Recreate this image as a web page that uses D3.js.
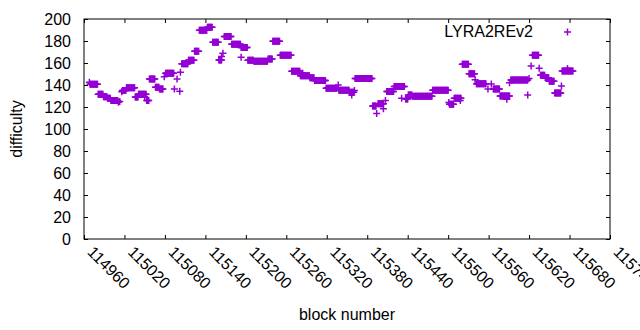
<!DOCTYPE html>
<html>
<head>
<meta charset="utf-8">
<script src="https://cdn.jsdelivr.net/npm/d3@7"></script>
<style>
  body { margin: 0; background: #fff; }
  svg { font-family: "Liberation Sans", Arial, sans-serif; font-size: 16px; }
</style>
</head>
<body>
<svg id="mainSVG" width="640" height="330"></svg>
<script>
// runs of consecutive blocks that share one difficulty value
var runStart = [114969, 114981, 114989, 114995, 115000, 115017, 115023, 115036, 115041, 115053,
                115057, 115066, 115072, 115081, 115105, 115115, 115124, 115131, 115143, 115151,
                115160, 115168, 115179, 115193, 115203, 115212, 115233, 115240, 115251, 115268,
                115281, 115295, 115302, 115319, 115338, 115354, 115362, 115388, 115396, 115409,
                115420, 115437, 115441, 115447, 115477, 115502, 115509, 115521, 115531, 115542,
                115567, 115577, 115593, 115625, 115637, 115644, 115650, 115658, 115669];
var runEnd   = [114980, 114988, 114994, 114999, 115010, 115022, 115035, 115040, 115052, 115056,
                115065, 115071, 115077, 115093, 115114, 115123, 115130, 115142, 115150, 115159,
                115164, 115178, 115192, 115202, 115211, 115232, 115239, 115250, 115267, 115280,
                115294, 115301, 115318, 115335, 115353, 115360, 115387, 115393, 115404, 115419,
                115435, 115440, 115446, 115476, 115500, 115508, 115519, 115530, 115539, 115556,
                115576, 115591, 115618, 115634, 115643, 115649, 115657, 115667, 115685];
var runDiff  = [140.6, 131.5, 129.4, 128, 126, 135, 137.5, 129, 131.5, 126,
                145.5, 138, 136.4, 150.6, 159.4, 162.4, 170.6, 189.7, 192.4, 178.8,
                162.7, 184.2, 177, 174.2, 162.4, 161.5, 163.6, 179.7, 167, 152.4,
                148.5, 146.7, 144.2, 137, 135.2, 133.3, 146, 121, 123, 134,
                138.6, 127.3, 131, 129.7, 135.2, 122.4, 127.9, 158.8, 150.3, 141.2,
                136.4, 129.9, 144.5, 167, 148.8, 146.7, 143.3, 132.7, 152.7];

// isolated blocks
var ptBlock = [114968, 115011, 115013, 115016, 115050, 115079, 115094, 115098, 115102, 115103,
               115164, 115166, 115193, 115284, 115337, 115357, 115361, 115394, 115404, 115407,
               115431, 115501, 115518, 115540, 115559, 115564, 115587, 115591, 115618, 115620,
               115623, 115635, 115668, 115677];
var ptDiff  = [142.4, 124.3, 125, 133.9, 129.5, 147.6, 136.4, 145.5, 134.3, 151.5,
               166, 168.8, 165.2, 151, 140, 131, 135, 114, 118.5, 126,
               128, 124.2, 126, 144.8, 136.4, 141, 127, 142, 131, 146,
               157.3, 155.2, 139, 155];

var xTicks = d3.range(114960, 115741, 60);
var yTicks = d3.range(0, 201, 20);
var seriesName = "LYRA2REv2";
var color = "#9400d3";

// plot box
var boxL = 84, boxR = 610, boxT = 19, boxB = 239;

var svg = d3.select("#mainSVG");

var x = d3.scaleLinear().domain([114960, 115740]).range([boxL, boxR]);
var y = d3.scaleLinear().domain([0, 200]).range([boxB, boxT]);

// one point per block
var points = [];
for (var i = 0; i < runStart.length; i++) {
    for (var b = runStart[i]; b <= runEnd[i]; b++) {
        points.push({ block: b, diff: runDiff[i] });
    }
}
for (var j = 0; j < ptBlock.length; j++) {
    points.push({ block: ptBlock[j], diff: ptDiff[j] });
}

// axes, ticks pointing inward like gnuplot
svg.append("g")
    .attr("transform", "translate(0," + boxB + ")")
    .call(d3.axisBottom(x).tickValues(xTicks).tickSizeInner(-4).tickSizeOuter(0).tickFormat(d3.format("d")))
    .call(function(g) {
        g.selectAll("text")
            .attr("x", null).attr("y", null).attr("dy", null)
            .attr("transform", "translate(2,14) rotate(45)")
            .style("text-anchor", "start");
    });

svg.append("g")
    .attr("transform", "translate(" + boxL + ",0)")
    .call(d3.axisLeft(y).tickValues(yTicks).tickSizeInner(-4).tickSizeOuter(0).tickPadding(13));

svg.append("g")
    .attr("transform", "translate(0," + boxT + ")")
    .call(d3.axisTop(x).tickValues(xTicks).tickSizeInner(-4).tickSizeOuter(0).tickFormat(""));

svg.append("g")
    .attr("transform", "translate(" + boxR + ",0)")
    .call(d3.axisRight(y).tickValues(yTicks).tickSizeInner(-4).tickSizeOuter(0).tickFormat(""));

svg.selectAll(".domain").remove();
svg.selectAll(".tick line").attr("stroke", "#000");
svg.selectAll(".tick text").attr("fill", "#000").style("font-size", "16px")
    .style("font-family", "'Liberation Sans', Arial, sans-serif");

svg.append("rect")
    .attr("x", boxL).attr("y", boxT)
    .attr("width", boxR - boxL).attr("height", boxB - boxT)
    .attr("fill", "none").attr("stroke", "#000").attr("stroke-width", 1);

// markers
function plus(px, py) {
    return "M" + (px - 3.5) + "," + py + "H" + (px + 3.5) + "M" + px + "," + (py - 3.5) + "V" + (py + 3.5);
}

svg.append("g")
    .selectAll("path")
    .data(points)
    .enter()
    .append("path")
    .attr("d", function(d) { return plus(x(d.block), y(d.diff)); })
    .attr("stroke", color)
    .attr("stroke-width", 1.5)
    .attr("fill", "none");

// key
svg.append("text")
    .attr("x", 533)
    .attr("y", 37)
    .style("text-anchor", "end")
    .text(seriesName);
svg.append("path")
    .attr("d", plus(567.5, 32))
    .attr("stroke", color)
    .attr("stroke-width", 1.5);

// axis titles
svg.append("text")
    .attr("transform", "translate(22," + ((boxT + boxB) / 2) + ") rotate(-90)")
    .style("text-anchor", "middle")
    .text("difficulty");
svg.append("text")
    .attr("x", (boxL + boxR) / 2)
    .attr("y", 320)
    .style("text-anchor", "middle")
    .text("block number");
</script>
</body>
</html>
